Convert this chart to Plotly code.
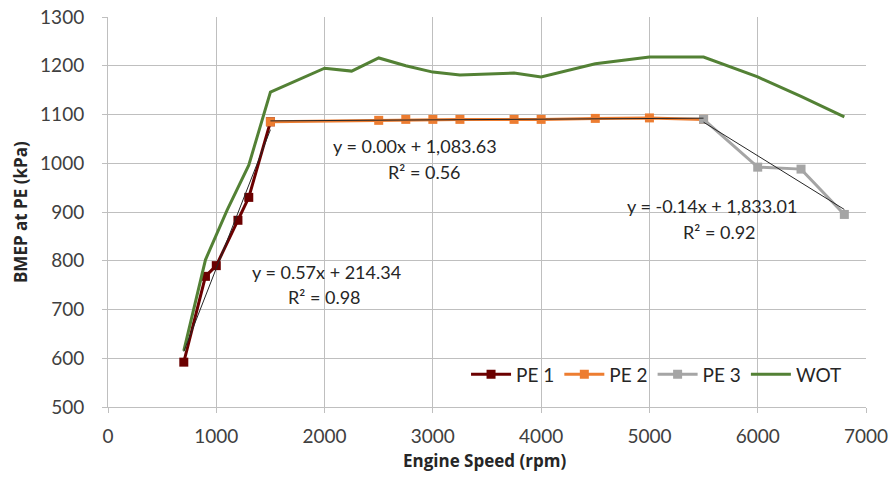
import numpy as np
import plotly.graph_objects as go

# ---- data ----
pe1_x = [700, 900, 1000, 1200, 1300, 1500]
pe1_y = [592, 768, 790, 883, 930, 1085]

pe2_x = [1500, 2500, 2750, 3000, 3250, 3750, 4000, 4500, 5000, 5500]
pe2_y = [1085, 1088, 1090, 1090, 1090, 1090, 1090, 1092, 1093, 1090]

pe3_x = [5500, 6000, 6400, 6800]
pe3_y = [1090, 992, 988, 895]

wot_x = [700, 900, 1100, 1300, 1500, 2000, 2250, 2500, 2750, 3000, 3250, 3750, 4000, 4500, 5000, 5500, 6000, 6400, 6800]
wot_y = [615, 802, 904, 996, 1146, 1195, 1189, 1216, 1200, 1187, 1181, 1185, 1177, 1204, 1218, 1218, 1177, 1137, 1095]

x_ticks = [0, 1000, 2000, 3000, 4000, 5000, 6000, 7000]
y_ticks = [500, 600, 700, 800, 900, 1000, 1100, 1200, 1300]

FONT = "Lato"
TITLE_FONT = "Open Sans"

fig = go.Figure()

fig.add_trace(go.Scatter(x=pe1_x, y=pe1_y, mode="lines+markers", name="PE 1",
                         line=dict(color="#6B0000", width=3),
                         marker=dict(symbol="square", size=9, color="#6B0000")))
fig.add_trace(go.Scatter(x=pe2_x, y=pe2_y, mode="lines+markers", name="PE 2",
                         line=dict(color="#ED7D31", width=3),
                         marker=dict(symbol="square", size=9, color="#ED7D31")))
fig.add_trace(go.Scatter(x=pe3_x, y=pe3_y, mode="lines+markers", name="PE 3",
                         line=dict(color="#A5A5A5", width=3),
                         marker=dict(symbol="square", size=9, color="#A5A5A5")))
fig.add_trace(go.Scatter(x=wot_x, y=wot_y, mode="lines", name="WOT",
                         line=dict(color="#538135", width=3)))

# linear trendlines (fits of each PE series)
for xs, ys in [(pe1_x, pe1_y), (pe2_x, pe2_y), (pe3_x, pe3_y)]:
    m, b = np.polyfit(xs, ys, 1)
    ex = [min(xs), max(xs)]
    fig.add_trace(go.Scatter(x=ex, y=[m * v + b for v in ex], mode="lines",
                             line=dict(color="#262626", width=1), showlegend=False,
                             hoverinfo="skip"))

ann = [
    ("y = 0.00x + 1,083.63", 2835, 1036),
    ("R² = 0.56", 2927, 982),
    ("y = 0.57x + 214.34", 2022, 777),
    ("R² = 0.98", 2003, 726),
    ("y = -0.14x + 1,833.01", 5582, 912),
    ("R² = 0.92", 5651, 860),
]
for t, ax_, ay_ in ann:
    fig.add_annotation(x=ax_, y=ay_, text=t, showarrow=False,
                       font=dict(family=FONT, size=18, color="#262626"),
                       xanchor="center", yanchor="middle")

# axis titles
fig.add_annotation(x=0.497, y=-0.137, xref="paper", yref="paper",
                   text="<b>Engine Speed (rpm)</b>", showarrow=False,
                   xanchor="center", yanchor="middle",
                   font=dict(family=TITLE_FONT, size=17, color="#262626"))
fig.add_annotation(x=-0.116, y=0.5, xref="paper", yref="paper",
                   text="<b>BMEP at PE (kPa)</b>", showarrow=False, textangle=-90,
                   xanchor="center", yanchor="middle",
                   font=dict(family=TITLE_FONT, size=17, color="#262626"))

fig.update_layout(
    width=894, height=484,
    margin=dict(l=108, r=28, t=17, b=77),
    paper_bgcolor="white", plot_bgcolor="white",
    font=dict(family=FONT, size=19, color="#404040"),
    legend=dict(orientation="h", x=0.975, xanchor="right", y=0.035, yanchor="bottom",
                bgcolor="rgba(0,0,0,0)", font=dict(family=FONT, size=19, color="#262626"),
                itemwidth=40, traceorder="normal"),
    showlegend=True,
)
fig.update_xaxes(range=[0, 7000], tickvals=x_ticks, ticktext=[str(v) for v in x_ticks],
                 showgrid=True, gridcolor="#BFBFBF", gridwidth=1, automargin=False,
                 showline=True, linecolor="#BFBFBF", ticks="outside", ticklen=5,
                 tickcolor="#BFBFBF", zeroline=False, ticklabelstandoff=7,
                 tickfont=dict(family=FONT, size=19, color="#404040"))
fig.update_yaxes(range=[500, 1300], tickvals=y_ticks, ticktext=[str(v) for v in y_ticks],
                 showgrid=True, gridcolor="#BFBFBF", gridwidth=1, automargin=False,
                 showline=True, linecolor="#BFBFBF", ticks="outside", ticklen=5,
                 tickcolor="#BFBFBF", zeroline=False, ticklabelstandoff=14,
                 tickfont=dict(family=FONT, size=19, color="#404040"))

fig.write_html("out.html")
